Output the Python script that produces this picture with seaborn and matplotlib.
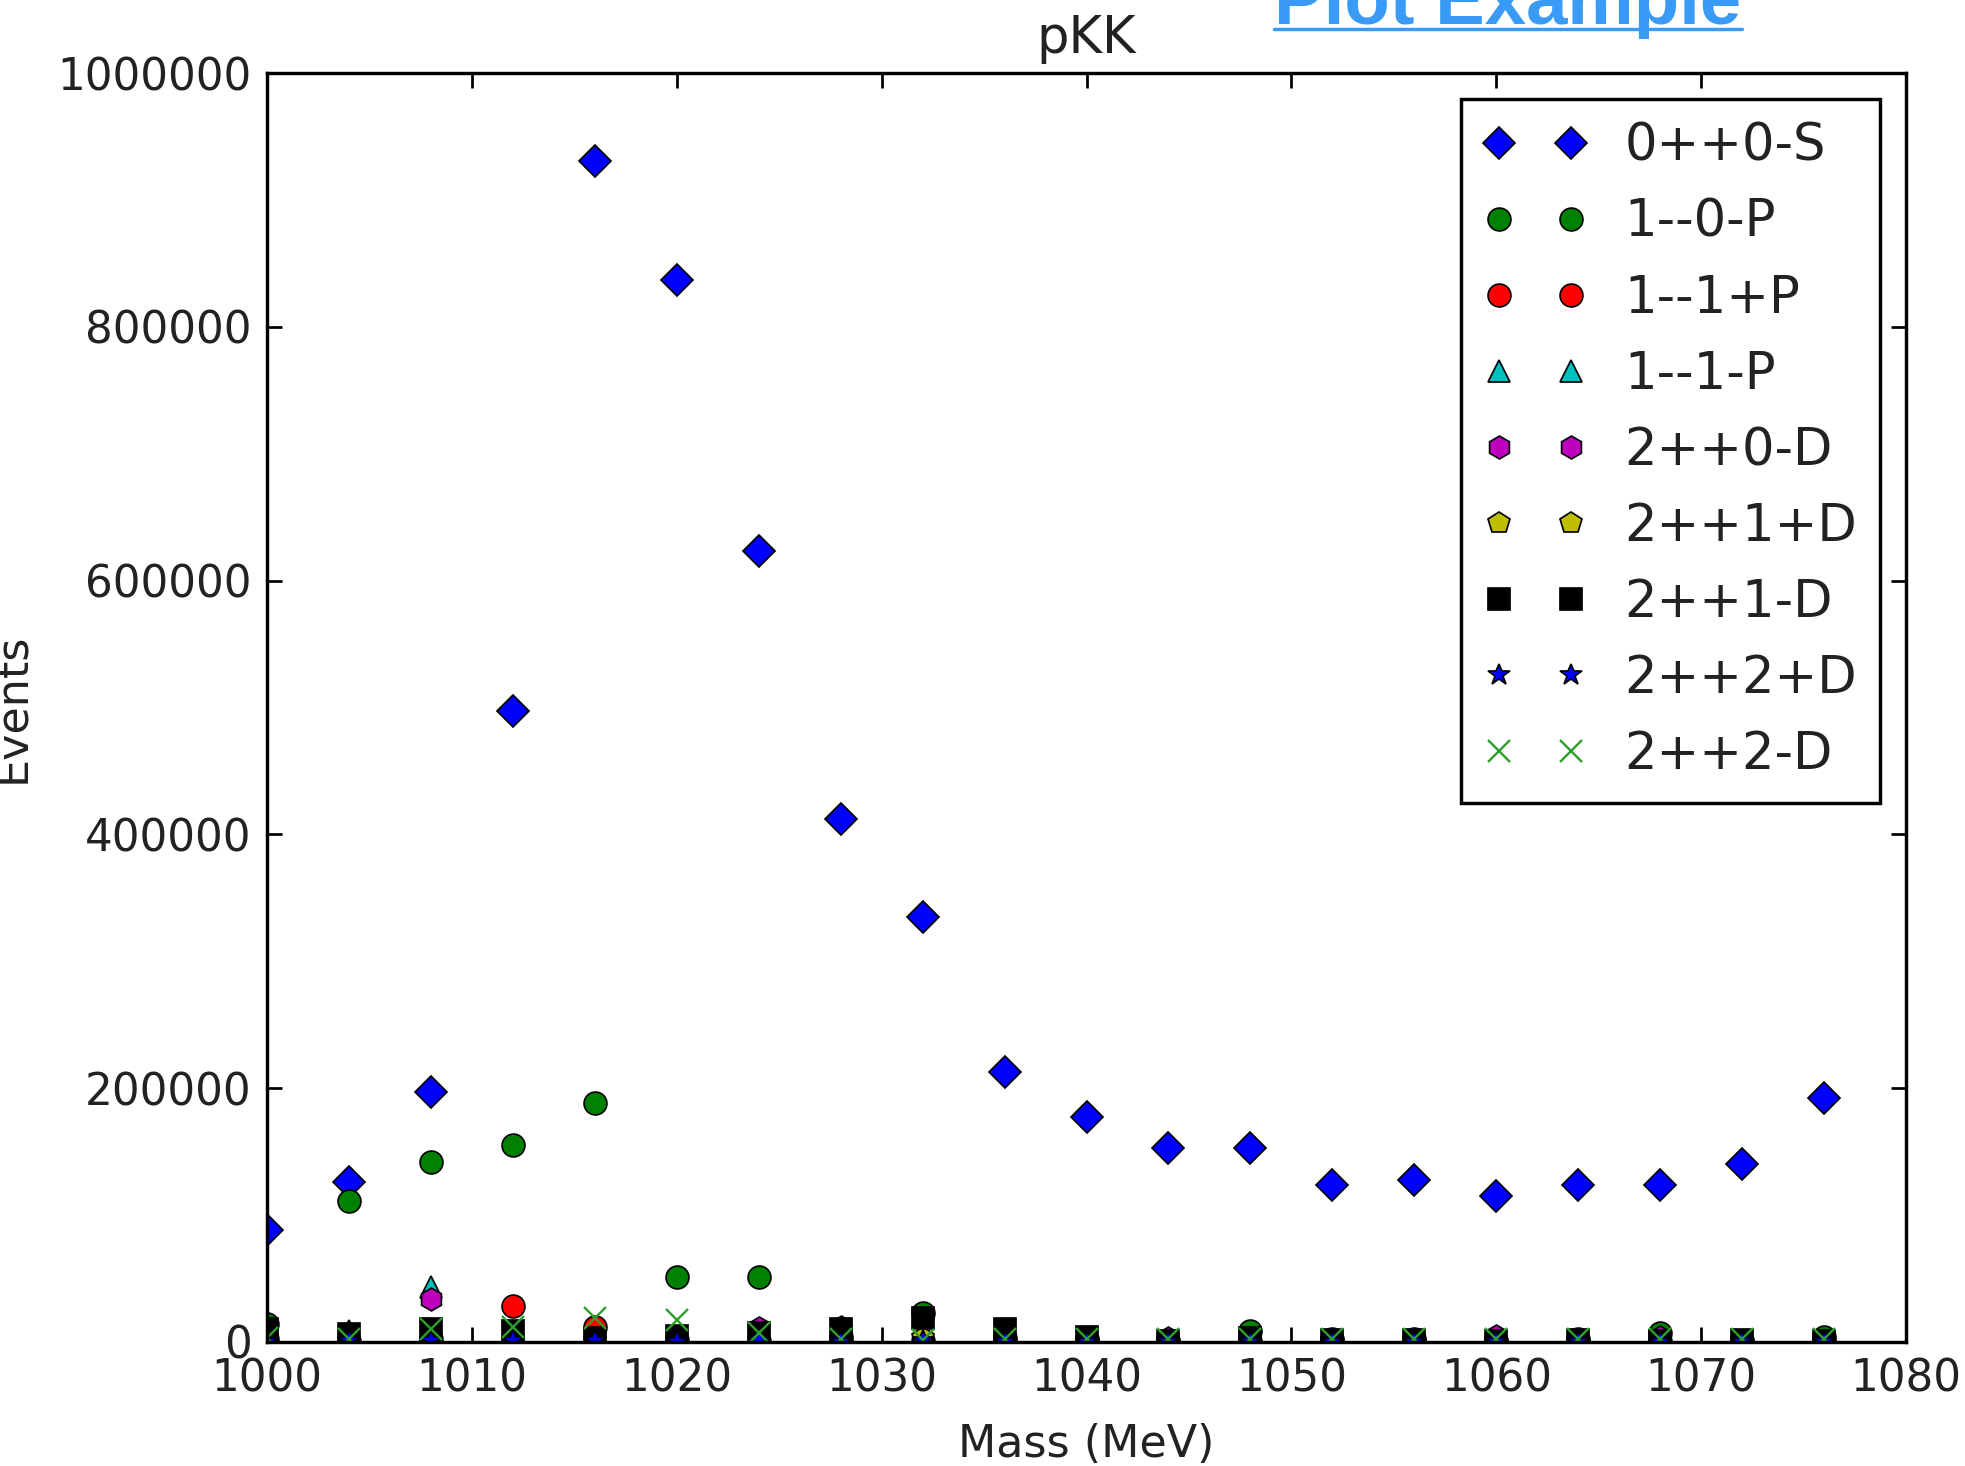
import matplotlib
matplotlib.use("Agg")
import matplotlib.pyplot as plt
import seaborn as sns
from matplotlib.lines import Line2D
from matplotlib.ticker import ScalarFormatter

# mass bins (MeV)
mass = [1000, 1004, 1008, 1012, 1016, 1020, 1024, 1028, 1032, 1036,
        1040, 1044, 1048, 1052, 1056, 1060, 1064, 1068, 1072, 1076]

# events per wave
s_0pp0S = [88000, 126000, 197000, 497000, 931000, 837000, 623000, 412000, 335000, 213000,
           177000, 153000, 153000, 124000, 128000, 115000, 124000, 124000, 140000, 192000]
s_1mm0P = [14000, 111000, 142000, 155000, 188000, 51000, 51000, 4000, 23000, 3000,
           2000, 1000, 8400, 2000, 2000, 500, 2000, 7000, 1000, 4000]
s_1mm1pP = [2000, 1000, 2000, 28500, 12000, 1500, 1000, 1000, 1000, 500,
            500, 500, 500, 500, 500, 500, 500, 500, 500, 500]
s_1mm1mP = [1000, 9000, 43000, 1000, 1000, 1000, 500, 500, 500, 500,
            500, 500, 500, 500, 500, 500, 500, 500, 500, 500]
s_2pp0mD = [500, 1000, 33500, 1000, 1500, 2000, 11000, 11500, 2000, 500,
            500, 3000, 500, 500, 500, 4500, 500, 4000, 500, 500]
s_2pp1pD = [500, 500, 500, 500, 500, 500, 500, 500, 3000, 500,
            500, 500, 500, 500, 500, 500, 500, 500, 500, 500]
s_2pp1mD = [10000, 6000, 10000, 8500, 3000, 4500, 7000, 10000, 19000, 10000,
            4000, 500, 3000, 1500, 1500, 500, 1500, 500, 1500, 500]
s_2pp2pD = [0, 500, 1000, 1000, 500, 0, 500, 0, 500, 0,
            0, 0, 0, 0, 0, 0, 0, 0, 0, 0]
s_2pp2mD = [3000, 2000, 10000, 11500, 19000, 17000, 7000, 2500, 1500, 2000,
            2000, 2000, 2000, 2000, 2000, 2000, 2000, 2000, 2000, 2000]

labels = ["0++0-S", "1--0-P", "1--1+P", "1--1-P", "2++0-D",
          "2++1+D", "2++1-D", "2++2+D", "2++2-D"]
markers = ["D", "o", "o", "^", "h", "p", "s", "*", "x"]
colors = ["#0000ff", "#008000", "#ff0000", "#00bfbf", "#bf00bf",
          "#bfbf00", "#000000", "#0000ff", "#2ca02c"]
series = [s_0pp0S, s_1mm0P, s_1mm1pP, s_1mm1mP, s_2pp0mD,
          s_2pp1pD, s_2pp1mD, s_2pp2pD, s_2pp2mD]

sns.set_style("ticks", {"xtick.direction": "in", "ytick.direction": "in",
                        "axes.edgecolor": "black"})
plt.rcParams["font.family"] = ["DejaVu Sans"]
plt.rcParams["xtick.top"] = True
plt.rcParams["ytick.right"] = True

fig = plt.figure(figsize=(8, 8 * 1466 / 1965), dpi=245.625)
ax = fig.add_subplot(111)
fig.subplots_adjust(left=0.1359, right=0.970, bottom=0.0846, top=0.9502)

for lab, vals, mk, col in zip(labels, series, markers, colors):
    if mk == "x":
        sns.lineplot(x=mass, y=vals, ax=ax, label=lab, marker=mk, color=col,
                     linestyle="", markersize=6.7, markeredgecolor=col,
                     markeredgewidth=0.7)
    else:
        sns.lineplot(x=mass, y=vals, ax=ax, label=lab, marker=mk, color=col,
                     linestyle="", markersize=6.7, markeredgecolor="black",
                     markeredgewidth=0.5)

ax.set_xlim(1000, 1080)
ax.set_ylim(0, 1000000)
ax.set_xticks(range(1000, 1081, 10))
ax.set_yticks(range(0, 1000001, 200000))
fmt = ScalarFormatter(useOffset=False)
fmt.set_scientific(False)
ax.yaxis.set_major_formatter(fmt)
ax.tick_params(which="major", length=4.5, width=0.8, pad=4.5, labelsize=12.8,
               colors="black", labelcolor="#222222")
for sp in ax.spines.values():
    sp.set_linewidth(1.0)
    sp.set_color("black")

ax.set_title("pKK", fontsize=15, color="#222222")
ax.set_xlabel("Mass (MeV)", fontsize=13, color="#222222", labelpad=6.5)
ax.set_ylabel("Events", fontsize=13, color="#222222")
ax.yaxis.set_label_coords(-0.143, 0.5)

leg = ax.legend(loc="upper right", numpoints=2, fontsize=15, fancybox=False,
                framealpha=1, edgecolor="black", handlelength=2.0,
                handletextpad=0.75, borderpad=0.45, labelspacing=0.51,
                borderaxespad=0.5)
leg.get_frame().set_linewidth(1.0)
for t in leg.get_texts():
    t.set_color("#222222")

# page overlay link text at the top, cut by the edge
fig.text(0.6485, 0.9836, "Plot Example", color="#3a9bf7", fontsize=21.8,
         fontweight="bold", family=["Liberation Sans", "DejaVu Sans"],
         ha="left", va="baseline")
fig.add_artist(Line2D([0.6485, 0.8866], [0.9805, 0.9805], transform=fig.transFigure,
                      color="#3a9bf7", linewidth=1.0))

fig.savefig("out.png", dpi=245.625)
